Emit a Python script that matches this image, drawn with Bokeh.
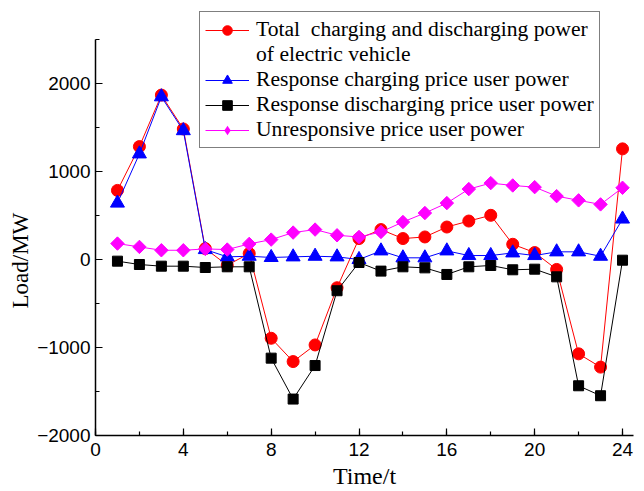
import math
from bokeh.plotting import figure
from bokeh.models import (Range1d, SingleIntervalTicker, Legend, LegendItem, Title)
from bokeh.embed import file_html
from bokeh.resources import INLINE

hours = list(range(1, 25))
total_ev = [785, 1283, 1868, 1483, 124, -65, 68, -895, -1160, -971, -321, 238,
            340, 238, 256, 369, 437, 502, 173, 79, -113, -1072, -1223, 1257]
resp_charge = [641, 1200, 1849, 1464, 113, 30, 37, 23, 30, 37, 30, 0,
               98, 19, 19, 98, 45, 45, 75, 45, 87, 87, 37, 460]
resp_discharge = [-19, -57, -76, -76, -91, -83, -83, -1121, -1586, -1205, -355, -34,
                  -132, -83, -95, -170, -83, -68, -117, -110, -197, -1435, -1548, -8]
unresponsive = [181, 143, 105, 105, 120, 113, 177, 226, 306, 340, 275, 256,
                313, 426, 528, 641, 800, 868, 841, 822, 720, 672, 626, 815]

labels = ["Total  charging and discharging power", "of electric vehicle",
          "Response charging price user power",
          "Response discharging price user power",
          "Unresponsive price user power"]

SERIF = "Liberation Serif"
SANS = "Liberation Sans"

# y axis drawn from -2000 to 2500; the frame reaches higher so the legend fits
p = figure(width=644, height=491, output_backend="svg", toolbar_location=None,
           x_range=Range1d(0, 24.5), y_range=Range1d(-2000, 2943),
           min_border_left=95, min_border_right=11, min_border_top=0,
           min_border_bottom=56)
p.outline_line_color = None
p.xgrid.visible = False
p.ygrid.visible = False
p.background_fill_color = "white"
p.border_fill_color = "white"

p.xaxis.ticker = SingleIntervalTicker(interval=4, num_minor_ticks=2)
p.yaxis.ticker = SingleIntervalTicker(interval=1000, num_minor_ticks=2)
p.yaxis.bounds = (-2000, 2500)
for ax in (p.xaxis, p.yaxis):
    ax.axis_line_width = 1.5
    ax.axis_line_color = "black"
    ax.major_tick_in = 7
    ax.major_tick_out = 0
    ax.minor_tick_in = 4
    ax.minor_tick_out = 0
    ax.major_tick_line_width = 1.2
    ax.minor_tick_line_width = 1.2
    ax.major_tick_line_color = "black"
    ax.minor_tick_line_color = "black"
    ax.major_label_text_font = SANS
    ax.major_label_text_font_size = "19px"
    ax.major_label_text_color = "black"
p.xaxis.major_label_standoff = 7
p.yaxis.major_label_standoff = 5
p.xaxis.axis_label = "Time/t"
p.xaxis.axis_label_text_font = SERIF
p.xaxis.axis_label_text_font_style = "normal"
p.xaxis.axis_label_text_color = "black"
p.xaxis.axis_label_text_font_size = "24px"
p.xaxis.axis_label_standoff = 4

ylab = Title(text="Load/MW", align="left", offset=127, vertical_align="middle",
             text_font=SERIF, text_font_size="23px", text_font_style="normal",
             text_color="black", standoff=1)
p.add_layout(ylab, "left")

r_line = p.line(hours, total_ev, line_color="#ff0000", line_width=1)
r_pts = p.scatter(hours, total_ev, marker="circle", size=12,
                  fill_color="#ff0000", line_color="#ff0000")
b_line = p.line(hours, resp_charge, line_color="#0000ff", line_width=1)
b_pts = p.scatter(hours, resp_charge, marker="triangle", size=14,
                  fill_color="#0000ff", line_color="#0000ff")
k_line = p.line(hours, resp_discharge, line_color="black", line_width=1)
k_pts = p.scatter(hours, resp_discharge, marker="square", size=10,
                  fill_color="black", line_color="black")
m_line = p.line(hours, unresponsive, line_color="#ff00ff", line_width=1)
# zero-size diamonds: only give the legend its diamond key
m_key = p.scatter(hours, unresponsive, marker="diamond", size=0,
                  fill_color="#ff00ff", line_color="#ff00ff", line_alpha=0)
m_pts = p.scatter(hours, unresponsive, marker="square", size=9.5, angle=math.pi / 4,
                  fill_color="#ff00ff", line_color="#ff00ff")
blank = p.line([], [], line_alpha=0)

legend = Legend(items=[
    LegendItem(label=labels[0], renderers=[r_line, r_pts]),
    LegendItem(label=labels[1], renderers=[blank]),
    LegendItem(label=labels[2], renderers=[b_line, b_pts]),
    LegendItem(label=labels[3], renderers=[k_line, k_pts]),
    LegendItem(label=labels[4], renderers=[m_line, m_key]),
], location=(104, 287))
legend.label_text_font = SERIF
legend.label_text_font_size = "21.6px"
legend.label_text_color = "black"
legend.glyph_width = 44
legend.glyph_height = 24
legend.label_height = 24
legend.label_standoff = 7
legend.spacing = 0
legend.padding = 5
legend.margin = 0
legend.border_line_color = "black"
legend.border_line_width = 1
legend.background_fill_color = "white"
legend.background_fill_alpha = 1
p.add_layout(legend, "center")

open("out.html", "w").write(file_html(p, INLINE))
